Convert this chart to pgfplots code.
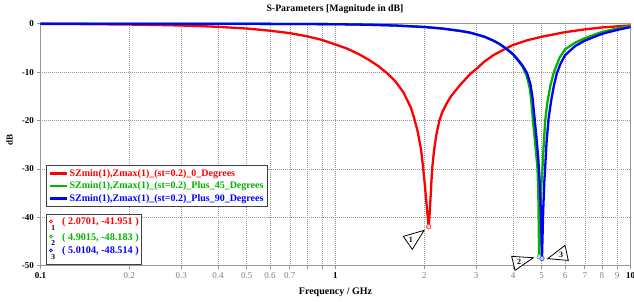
\documentclass[border=0pt]{standalone}
\usepackage{pgfplots}
\pgfplotsset{compat=1.18}
\usepackage{fontspec}
\setmainfont{Liberation Serif}
\definecolor{cRed}{RGB}{255,0,0}
\definecolor{cGreen}{RGB}{0,180,0}
\definecolor{cBlue}{RGB}{0,0,255}
\definecolor{gridc}{RGB}{150,150,150}
\newcommand{\gl}[1]{\textcolor{gray}{#1}}
\begin{document}
\begin{tikzpicture}[x=1pt,y=1pt]
\begin{axis}[
  at={(0,0)}, anchor=south west,
  scale only axis, width=590pt, height=242pt,
  xmode=log, xmin=0.1, xmax=10, ymin=-50, ymax=0,
  clip=false,
  xtick={0.1,0.2,0.3,0.4,0.5,0.6,0.7,0.8,0.9,1,2,3,4,5,6,7,8,9,10},
  xticklabels={\textbf{0.1},\gl{0.2},\gl{0.3},\gl{0.4},\gl{0.5},\gl{0.6},\gl{0.7},{},{},\textbf{1},\gl{2},\gl{3},\gl{4},\gl{5},\gl{6},\gl{7},\gl{8},\gl{9},\textbf{10}},
  ytick={-50,-40,-30,-20,-10,0},
  yticklabels={\textbf{-50},\textbf{-40},\textbf{-30},\textbf{-20},\textbf{-10},\textbf{0}},
  xtick pos=left, ytick pos=left,
  grid=major,
  major grid style={gridc, dash pattern=on 1pt off 1pt, line width=0.5pt},
  axis line style={gridc, line width=0.8pt},
  tick style={gridc, line width=0.6pt}, tick align=outside, major tick length=3pt,
  tick label style={font=\fontsize{9}{10}\selectfont},
  xlabel={\textbf{Frequency / GHz}},
  xlabel style={at={(0.5,-0.110)}, anchor=center, font=\fontsize{10}{11}\selectfont},
  ylabel={\textbf{dB}},
  ylabel style={at={(-0.0525,0.518)}, anchor=center, font=\fontsize{9}{10}\selectfont},
  legend style={at={(0.0093,0.4145)}, anchor=north west, draw=black!75, line width=0.9pt,
    font=\bfseries\fontsize{10}{11.5}\selectfont, inner xsep=2pt, inner ysep=1.5pt, row sep=0pt},
  legend cell align=left,
  legend image code/.code={\draw[#1, line width=2.2pt] (0pt,0pt) -- (17pt,0pt);},
]
\addplot[cRed, line width=2.3pt] coordinates {
(0.1,-0.03)(0.12,-0.06)(0.15,-0.1)(0.2,-0.18)(0.25,-0.27)(0.3,-0.38)(0.35,-0.5)(0.4,-0.65)(0.5,-1.0)(0.6,-1.45)(0.7,-1.95)(0.8,-2.6)(0.9,-3.35)(1.0,-4.3)(1.1,-5.2)(1.2,-6.3)(1.3,-7.5)(1.4,-8.8)(1.5,-10.3)(1.6,-12.0)(1.7,-14.2)(1.8,-17.3)(1.842,-19.2)(1.9,-22.3)(1.95,-26.0)(1.98,-29.5)(2.01,-33.5)(2.04,-38.0)(2.0701,-41.951)(2.09,-38.5)(2.11,-33.5)(2.13,-29.5)(2.16,-26.0)(2.2,-22.8)(2.25,-20.0)(2.3,-18.3)(2.39,-16.3)(2.47,-14.9)(2.65,-12.6)(2.86,-10.4)(3.02,-9.2)(3.2,-7.8)(3.43,-6.5)(3.76,-5.2)(4.0,-4.4)(4.45,-3.45)(5.0,-2.7)(6.0,-1.75)(7.0,-1.18)(8.0,-0.78)(9.0,-0.55)(10.0,-0.35)
};
\addlegendentry{\textcolor{cRed}{SZmin(1),Zmax(1)\_(st=0.2)\_0\_Degrees}}
\addplot[cGreen, line width=2.3pt] coordinates {
(0.1,0)(0.5,-0.02)(1.0,-0.1)(1.3,-0.22)(1.6,-0.38)(2.0,-0.68)(2.3,-1.0)(2.65,-1.5)(2.86,-1.85)(3.0,-2.2)(3.2,-2.7)(3.43,-3.5)(3.6,-4.2)(3.8,-5.2)(4.0,-6.4)(4.15,-7.6)(4.3,-8.8)(4.45,-10.8)(4.56,-13.5)(4.62,-16.5)(4.67,-20.0)(4.75,-24.5)(4.84,-30.0)(4.87,-35.0)(4.9015,-48.183)(4.94,-38.0)(4.99,-33.0)(5.04,-29.0)(5.09,-24.0)(5.14,-20.0)(5.22,-16.5)(5.35,-12.8)(5.5,-10.0)(5.75,-7.0)(6.0,-5.3)(6.5,-3.9)(7.0,-3.0)(8.0,-1.7)(9.0,-1.0)(10.0,-0.5)
};
\addlegendentry{\textcolor{cGreen}{SZmin(1),Zmax(1)\_(st=0.2)\_Plus\_45\_Degrees}}
\addplot[cBlue, line width=2.3pt] coordinates {
(0.1,0)(0.5,-0.02)(1.0,-0.1)(1.3,-0.22)(1.6,-0.38)(2.0,-0.68)(2.3,-1.0)(2.65,-1.5)(2.86,-1.85)(3.0,-2.2)(3.2,-2.7)(3.43,-3.5)(3.6,-4.2)(3.8,-5.2)(4.0,-6.3)(4.15,-7.4)(4.3,-8.6)(4.46,-10.2)(4.58,-12.5)(4.66,-15.5)(4.72,-19.0)(4.8,-23.5)(4.87,-28.0)(4.92,-32.5)(4.97,-39.0)(5.0104,-48.514)(5.06,-38.5)(5.1,-33.0)(5.14,-29.5)(5.2,-24.0)(5.28,-19.5)(5.38,-16.0)(5.5,-12.8)(5.63,-10.2)(5.8,-8.2)(6.0,-6.5)(6.5,-4.6)(7.0,-3.5)(8.0,-2.1)(9.0,-1.3)(10.0,-0.7)
};
\addlegendentry{\textcolor{cBlue}{SZmin(1),Zmax(1)\_(st=0.2)\_Plus\_90\_Degrees}}
\addplot[only marks, mark=*, mark size=2.2pt, mark options={draw=cRed!70, fill=cRed!20, line width=0.7pt}, forget plot] coordinates {(2.0701,-41.951)};
\addplot[only marks, mark=*, mark size=2.2pt, mark options={draw=cGreen!70, fill=cGreen!20, line width=0.7pt}, forget plot] coordinates {(4.9015,-48.183)};
\addplot[only marks, mark=*, mark size=2.2pt, mark options={draw=cBlue!70, fill=cBlue!20, line width=0.7pt}, forget plot] coordinates {(5.0104,-48.514)};
\end{axis}
% title
\node[font=\bfseries\fontsize{9.8}{11}\selectfont] at (294.5,256.5) {S-Parameters [Magnitude in dB]};
% marker callouts
\draw[black, line width=0.8pt, fill=white] (362.8,29.3) -- (383.5,35.3) -- (371.8,16.3) -- cycle;
\node[font=\bfseries\fontsize{8}{9}\selectfont] at (370.3,25.5) {1};
\draw[black, line width=0.8pt, fill=white] (471.2,9.3) -- (492.8,8) -- (474.5,-4.7) -- cycle;
\node[font=\bfseries\fontsize{8}{9}\selectfont] at (478.5,4.3) {2};
\draw[black, line width=0.8pt, fill=white] (507.2,7) -- (524.5,20.3) -- (527.8,5.3) -- cycle;
\node[font=\bfseries\fontsize{8}{9}\selectfont] at (520.5,11.3) {3};
% marker readout box
\draw[black!75, line width=0.9pt, fill=white] (5.5,51.3) rectangle (101.2,1);
\draw[cRed, line width=0.6pt] (10.5,44.3) circle (1.5pt);
\node[font=\bfseries\fontsize{7.5}{8}\selectfont, inner sep=0pt] at (12.8,37.6) {1};
\node[anchor=west, inner sep=0pt, font=\bfseries\fontsize{10.2}{12}\selectfont, text=cRed] at (21.5,43.6) {( 2.0701, -41.951 )};
\draw[cGreen, line width=0.6pt] (10.5,29.3) circle (1.5pt);
\node[font=\bfseries\fontsize{7.5}{8}\selectfont, inner sep=0pt] at (12.8,22.6) {2};
\node[anchor=west, inner sep=0pt, font=\bfseries\fontsize{10.2}{12}\selectfont, text=cGreen] at (21.5,28.0) {( 4.9015, -48.183 )};
\draw[cBlue, line width=0.6pt] (10.5,15.3) circle (1.5pt);
\node[font=\bfseries\fontsize{7.5}{8}\selectfont, inner sep=0pt] at (12.8,8.6) {3};
\node[anchor=west, inner sep=0pt, font=\bfseries\fontsize{10.2}{12}\selectfont, text=cBlue] at (21.5,14.6) {( 5.0104, -48.514 )};
\pgfresetboundingbox
\path (-40.5,-35.7) rectangle (593.5,265.7);
\end{tikzpicture}
\end{document}
